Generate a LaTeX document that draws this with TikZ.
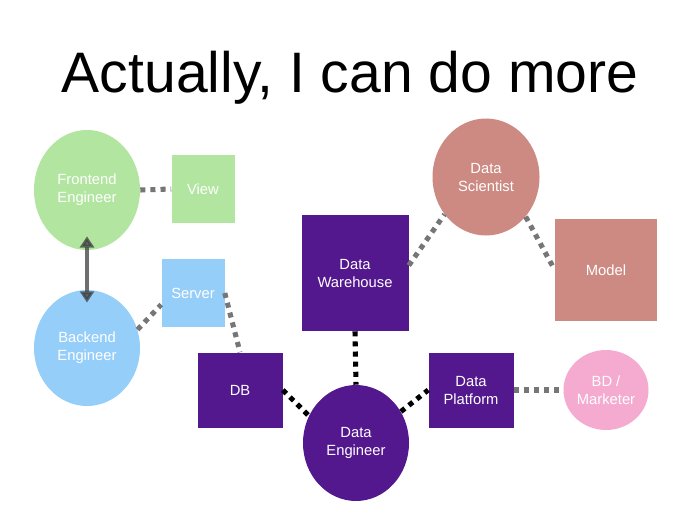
\documentclass[tikz,border=0pt]{standalone}
\usepackage{fontspec}
\setmainfont{Liberation Sans}
\usepackage{xcolor}
\usepackage{tikz}
\usetikzlibrary{shapes.geometric,arrows.meta}
\definecolor{verde}{RGB}{178,230,160}
\definecolor{azul}{RGB}{150,206,250}
\definecolor{morado}{RGB}{83,24,141}
\definecolor{rosado}{RGB}{204,138,130}
\definecolor{rosa}{RGB}{245,170,208}
\definecolor{gris}{RGB}{118,118,118}
\tikzset{
  rol/.style={ellipse,draw=none,inner sep=0pt,text=white,align=center,font=\fontsize{10.5}{12.8}\selectfont},
  caja/.style={rectangle,draw=none,inner sep=0pt,text=white,align=center,font=\fontsize{10.5}{12.8}\selectfont},
  enlace/.style={gris,line width=3.6pt,dash pattern=on 3.6pt off 3.6pt},
  enlacen/.style={black,line width=3.6pt,dash pattern=on 3.6pt off 3.6pt}
}

\begin{document}
\begin{tikzpicture}
\useasboundingbox[fill=white] (0,0) rectangle (17.5,13.125);
\node[anchor=base] (titulo) at (8.75,10.8) {\fontsize{40.6}{48}\selectfont Actually, I can do more};
% roles
\node[rol,fill=verde,minimum width=2.65cm,minimum height=3cm] (fe) at (2.175,8.375) {Frontend\\Engineer};
\node[rol,fill=azul,minimum width=2.65cm,minimum height=2.9cm] (be) at (2.175,4.425) {Backend\\Engineer};
\node[rol,fill=morado,minimum width=2.65cm,minimum height=2.9cm] (de) at (8.9,2.05) {Data\\Engineer};
\node[rol,fill=rosado,minimum width=2.675cm,minimum height=2.925cm] (ds) at (12.15,8.7) {Data\\Scientist};
\node[rol,fill=rosa,minimum width=2.125cm,minimum height=2cm] (bd) at (15.15,3.375) {BD /\\Marketer};
% cajas
\node[caja,fill=verde,minimum width=1.575cm,minimum height=1.7cm] (view) at (5.075,8.4) {View};
\node[caja,fill=azul,minimum width=1.575cm,minimum height=1.7cm] (server) at (4.825,5.8) {Server};
\node[caja,fill=morado,minimum width=2.125cm,minimum height=1.875cm] (db) at (6.0,3.375) {DB};
\node[caja,fill=morado,minimum width=2.675cm,minimum height=2.9cm] (dw) at (8.875,6.3) {Data\\Warehouse};
\node[caja,fill=morado,minimum width=2.125cm,minimum height=1.875cm] (dp) at (11.775,3.375) {Data\\Platform};
\node[caja,fill=rosado,minimum width=2.55cm,minimum height=2.55cm] (model) at (15.15,6.375) {Model};
% enlaces
\draw[enlace] (fe.east) -- (view.west);
\draw[enlace] (be.20) -- (server.200);
\draw[enlace] (server.east) -- (db.north);
\draw[enlace] (dp.east) -- (bd.west);
\draw[enlace] (dw.8) -- (ds.222);
\draw[enlace] (ds.-45) -- (model.west);
\draw[enlacen] (db.east) -- (de.150);
\draw[enlacen] (dw.south) -- (de.north);
\draw[enlacen] (de.35) -- (dp.west);
\draw[{Triangle[width=10pt,length=8pt]}-{Triangle[width=10pt,length=8pt]},black!75,opacity=0.75,line width=2.2pt,shorten <=-0.35cm,shorten >=-0.32cm] (fe.south) -- (be.north);
\end{tikzpicture}
\end{document}
